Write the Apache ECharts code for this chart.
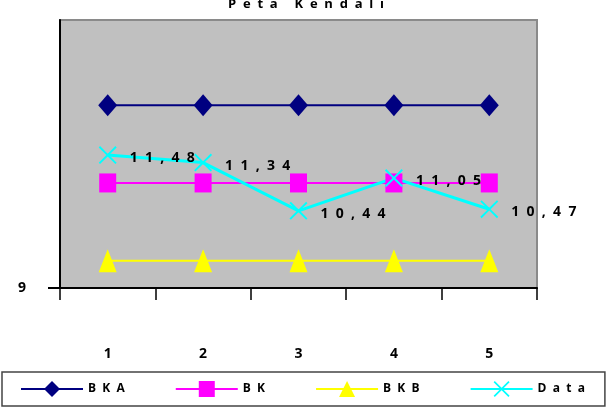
<!DOCTYPE html>
<html>
<head>
<meta charset="utf-8">
<script src="https://cdn.jsdelivr.net/npm/echarts@6/dist/echarts.min.js"></script>
<style>
  html, body { margin: 0; padding: 0; background: #fff; }
</style>
</head>
<body>
<div id="myChart" style="width: 612px; height: 412px;"></div>
<script>
  // data
  var categories = ['1', '2', '3', '4', '5'];
  var bka = [12.41, 12.41, 12.41, 12.41, 12.41];
  var bk = [10.96, 10.96, 10.96, 10.96, 10.96];
  var bkb = [9.51, 9.51, 9.51, 9.51, 9.51];
  var dataVals = [11.48, 11.34, 10.44, 11.05, 10.47];
  var yTicks = [9];

  // spread letters like the original ("1 1 , 4 8")
  function spaced(s, gap) {
    return String(s).split('').join(gap);
  }

  var xMark = 'path://M0,1.5L1.5,0L10,8.5L18.5,0L20,1.5L11.5,10L20,18.5L18.5,20L10,11.5L1.5,20L0,18.5L8.5,10Z';
  var font = 'Open Sans';

  var myChart = echarts.init(document.getElementById('myChart'));
  myChart.setOption({
    animation: false,
    backgroundColor: '#fff',
    title: {
      text: spaced('Peta Kendali', '  '),
      left: 'center',
      top: -7,
      textStyle: { color: '#000', fontSize: 13, fontWeight: 'bold', fontFamily: font }
    },
    grid: {
      left: 60,
      right: 75,
      top: 20,
      bottom: 124,
      show: true,
      backgroundColor: '#c0c0c0',
      borderColor: '#8a8a8a',
      borderWidth: 2
    },
    legend: {
      left: 2,
      bottom: 6,
      padding: [9, 20, 9, 18],
      itemGap: 50,
      itemWidth: 62,
      itemHeight: 20,
      borderColor: '#444',
      borderWidth: 1.5,
      textStyle: { color: '#000', fontSize: 12, fontWeight: 'bold', fontFamily: font },
      formatter: function (name) { return spaced(name, '  '); },
      data: ['BKA', 'BK', 'BKB', 'Data']
    },
    xAxis: {
      type: 'category',
      data: categories,
      boundaryGap: true,
      axisLine: { lineStyle: { color: '#000', width: 2 } },
      axisTick: { show: true, length: 12, lineStyle: { color: '#000', width: 1.5 } },
      axisLabel: { margin: 59, color: '#000', fontSize: 14, fontWeight: 'bold', fontFamily: font },
      splitLine: { show: false }
    },
    yAxis: {
      type: 'value',
      min: 9,
      max: 14,
      interval: 1,
      axisLine: { show: true, lineStyle: { color: '#000', width: 2 } },
      axisTick: { show: true, length: 12, customValues: yTicks, lineStyle: { color: '#000', width: 2 } },
      axisLabel: { customValues: yTicks, margin: 34, color: '#000', fontSize: 14, fontWeight: 'bold', fontFamily: font },
      splitLine: { show: false }
    },
    series: [
      {
        name: 'BKA',
        type: 'line',
        data: bka,
        symbol: 'diamond',
        symbolSize: [19, 22],
        lineStyle: { color: '#000080', width: 2 },
        itemStyle: { color: '#000080' }
      },
      {
        name: 'BK',
        type: 'line',
        data: bk,
        symbol: 'rect',
        symbolSize: [17, 19],
        lineStyle: { color: '#ff00ff', width: 2 },
        itemStyle: { color: '#ff00ff' }
      },
      {
        name: 'BKB',
        type: 'line',
        data: bkb,
        symbol: 'triangle',
        symbolSize: [18, 23],
        lineStyle: { color: '#ffff00', width: 2 },
        itemStyle: { color: '#ffff00' }
      },
      {
        name: 'Data',
        type: 'line',
        data: dataVals,
        symbol: xMark,
        symbolSize: [18, 18],
        lineStyle: { color: '#00ffff', width: 3 },
        itemStyle: { color: '#00ffff' },
        label: {
          show: true,
          position: 'right',
          offset: [8, 3],
          color: '#000',
          fontSize: 14,
          fontWeight: 'bold',
          fontFamily: font,
          formatter: function (p) {
            return spaced(p.value.toFixed(2).replace('.', ','), '  ');
          }
        }
      }
    ]
  });
</script>
</body>
</html>
